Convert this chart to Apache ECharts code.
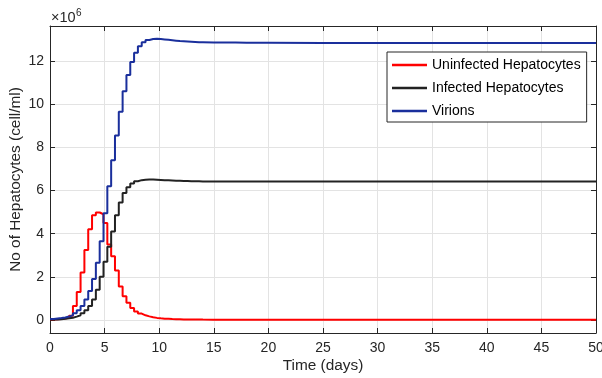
<!DOCTYPE html>
<html><head><meta charset="utf-8">
<script src="https://cdn.jsdelivr.net/npm/echarts@6/dist/echarts.min.js"></script>
<style>html,body{margin:0;padding:0;background:#fff}#c{width:602px;height:378px}</style>
</head><body><div id="c"></div>
<script>
// time (days) of each stair step
const times = [0,0.35,0.7,1.05,1.4,1.75,2.1,2.45,2.8,3.15,3.5,3.85,4.2,4.55,4.9,5.25,5.6,5.95,6.3,6.65,7.0,7.35,7.7,8.05,8.4,8.75,9.1,9.45,9.8,10.15,10.5,10.85,11.2,11.55,11.9,12.25,12.6,12.95,13.3,13.65,14,15,16,17,18,20,25,30,35,40,45,50];
// values in units of 1e6 cell/ml
const uninfected = [0.03,0.04,0.05,0.07,0.1,0.2,0.65,1.3,2.2,3.25,4.2,4.85,4.98,4.9,4.5,3.5,2.95,2.3,1.55,1.1,0.8,0.56,0.4,0.3,0.22,0.17,0.13,0.1,0.08,0.065,0.055,0.045,0.04,0.035,0.03,0.028,0.025,0.023,0.021,0.02,0.019,0.018,0.017,0.016,0.015,0.015,0.015,0.015,0.015,0.015,0.015,0.015];
const infected = [0.02,0.03,0.04,0.06,0.08,0.11,0.16,0.22,0.32,0.45,0.65,0.95,1.4,2.0,2.7,3.4,4.1,4.85,5.45,5.88,6.15,6.32,6.43,6.48,6.5,6.51,6.51,6.5,6.49,6.48,6.47,6.46,6.45,6.45,6.44,6.44,6.43,6.43,6.43,6.42,6.42,6.42,6.42,6.42,6.42,6.42,6.42,6.42,6.42,6.42,6.42,6.42];
const virions = [0.05,0.07,0.09,0.12,0.16,0.22,0.32,0.45,0.65,0.95,1.35,1.9,2.65,3.65,4.95,6.2,7.4,8.55,9.65,10.6,11.35,11.95,12.38,12.68,12.87,12.97,13.02,13.03,13.02,13.0,12.98,12.96,12.94,12.92,12.91,12.9,12.89,12.88,12.87,12.87,12.86,12.85,12.85,12.84,12.84,12.83,12.83,12.83,12.83,12.83,12.83,12.83];
const seriesNames = ['Uninfected Hepatocytes','Infected Hepatocytes','Virions'];
const seriesColors = ['#ff0000','#222222','#1a2f9c'];
const yTicks = [0,2,4,6,8,10,12];
const xLabel = 'Time (days)';
const yLabel = 'No of Hepatocytes (cell/ml)';

const FONT = 'Liberation Sans, Arial, Helvetica, sans-serif';
const AX = '#262626';
const GRIDC = '#e3e3e3';

const valuesList = [uninfected, infected, virions];
const series = valuesList.map((vals, i) => ({
  name: seriesNames[i],
  type: 'line',
  step: 'end',
  showSymbol: false,
  symbol: 'none',
  data: times.map((t, k) => [t, vals[k]]),
  lineStyle: { color: seriesColors[i], width: 2 },
  itemStyle: { color: seriesColors[i] },
  z: 3 + i
}));

const xBase = { type: 'value', min: 0, max: 50, interval: 5 };
const yBase = { type: 'value', min: -0.6, max: 13.62 };

const chart = echarts.init(document.getElementById('c'), null, { renderer: 'canvas' });
chart.setOption({
  animation: false,
  backgroundColor: '#ffffff',
  grid: { left: 50, right: 6, top: 26, bottom: 45, containLabel: false, outerBoundsMode: 'none' },
  xAxis: [
    Object.assign({}, xBase, {
      position: 'bottom',
      name: xLabel, nameLocation: 'middle', nameGap: 25, nameMoveOverlap: false,
      nameTextStyle: { fontFamily: FONT, fontSize: 15.4, color: AX },
      axisLine: { show: true, onZero: false, lineStyle: { color: AX, width: 1 } },
      axisTick: { show: true, inside: true, length: 5, lineStyle: { color: AX } },
      axisLabel: { show: true, margin: 8, fontFamily: FONT, fontSize: 14, color: AX, showMaxLabel: true, hideOverlap: false },
      splitLine: { show: true, lineStyle: { color: GRIDC, width: 1 } }
    }),
    Object.assign({}, xBase, {
      position: 'top',
      axisLine: { show: true, onZero: false, lineStyle: { color: AX, width: 1 } },
      axisTick: { show: true, inside: true, length: 5, lineStyle: { color: AX } },
      axisLabel: { show: false },
      splitLine: { show: false }
    })
  ],
  yAxis: [
    Object.assign({}, yBase, {
      position: 'left',
      name: yLabel, nameLocation: 'middle', nameGap: 27, nameMoveOverlap: false,
      nameTextStyle: { fontFamily: FONT, fontSize: 15.4, color: AX },
      axisLine: { show: true, onZero: false, lineStyle: { color: AX, width: 1 } },
      axisTick: { show: true, inside: true, length: 5, customValues: yTicks, lineStyle: { color: AX } },
      axisLabel: { show: true, margin: 6, customValues: yTicks, fontFamily: FONT, fontSize: 14, color: AX },
      splitLine: { show: true, lineStyle: { color: GRIDC, width: 1 } }
    }),
    Object.assign({}, yBase, {
      position: 'right',
      axisLine: { show: true, onZero: false, lineStyle: { color: AX, width: 1 } },
      axisTick: { show: true, inside: true, length: 5, customValues: yTicks, lineStyle: { color: AX } },
      axisLabel: { show: false },
      splitLine: { show: false }
    })
  ],
  legend: {
    show: true,
    orient: 'vertical',
    left: 387, top: 52,
    data: seriesNames,
    icon: 'rect',
    itemWidth: 35, itemHeight: 2.5,
    itemGap: 9, itemTextGap: 4,
    padding: [6, 6, 4, 5],
    backgroundColor: '#ffffff',
    borderColor: AX, borderWidth: 1, borderRadius: 0,
    textStyle: { fontFamily: FONT, fontSize: 14, color: '#000000' }
  },
  graphic: [
    { type: 'text', left: 51, top: 10, style: { text: '×10', font: '14.5px ' + FONT, fill: AX } },
    { type: 'text', left: 76, top: 8, style: { text: '6', font: '10px ' + FONT, fill: AX } }
  ],
  series: series
});
</script>
</body></html>
